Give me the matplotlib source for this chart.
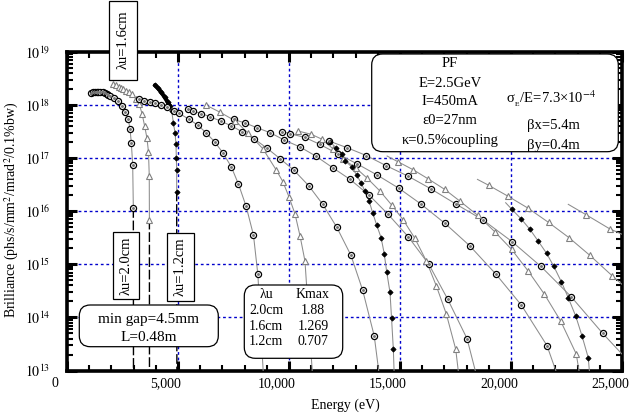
import matplotlib
matplotlib.use("Agg")
import numpy as np
import matplotlib.pyplot as plt
import matplotlib.patches as mpatches
from matplotlib import transforms
from matplotlib.ticker import MultipleLocator, LogLocator, NullFormatter

plt.rcParams["font.family"] = ["Liberation Serif", "DejaVu Serif"]
plt.rcParams["mathtext.fontset"] = "stix"

# --- data: photon energy (eV), log10 brilliance ---
# lambda_u = 2.0 cm (open circles)
c1_E = [1067, 1150, 1250, 1330, 1410, 1500, 1600, 1700, 1780, 1860, 1937, 2100, 2311, 2491, 2613, 2761, 2838, 2897, 2959, 2988, 2995]
c1_log = [18.22, 18.24, 18.25, 18.25, 18.25, 18.25, 18.24, 18.22, 18.21, 18.19, 18.17, 18.13, 18.08, 17.98, 17.87, 17.73, 17.55, 17.29, 16.88, 16.06, 12.9]
c3_E = [3226, 3450, 3724, 3980, 4235, 4505, 4803, 5027, 5508, 5900, 6260, 6646, 7023, 7397, 7725, 8071, 8400, 8597, 8849]
c3_log = [18.11, 18.08, 18.05, 18.03, 18.00, 17.96, 17.89, 17.85, 17.73, 17.62, 17.48, 17.31, 17.10, 16.84, 16.51, 16.09, 15.55, 14.81, 12.9]
c5_E = [5450, 5675, 6047, 6452, 6916, 7397, 7878, 8444, 9002, 9600, 10229, 10890, 11520, 12150, 12790, 13320, 13840, 14070]
c5_log = [17.93, 17.89, 17.84, 17.78, 17.70, 17.61, 17.50, 17.36, 17.19, 16.99, 16.77, 16.48, 16.13, 15.70, 15.17, 14.51, 13.65, 12.9]
c7_E = [7500, 8040, 8580, 9150, 9795, 10500, 11205, 11970, 12750, 13620, 14470, 15370, 16300, 17140, 18020, 18450]
c7_log = [17.73, 17.66, 17.57, 17.48, 17.34, 17.21, 17.04, 16.82, 16.60, 16.30, 15.94, 15.52, 15.00, 14.35, 13.60, 12.9]
c9_E = [9700, 10050, 10720, 11390, 12200, 13080, 13980, 14960, 15930, 17030, 18140, 19310, 20470, 21620, 22100]
c9_log = [17.50, 17.46, 17.39, 17.26, 17.08, 16.89, 16.68, 16.43, 16.14, 15.77, 15.35, 14.82, 14.23, 13.47, 12.9]
c11_E = [11820, 12600, 13480, 14370, 15370, 16400, 17540, 18760, 20040, 21350, 22710, 24130, 25200]
c11_log = [17.32, 17.20, 17.05, 16.86, 16.66, 16.42, 16.13, 15.83, 15.43, 14.96, 14.39, 13.70, 13.22]

# lambda_u = 1.6 cm (open triangles)
t1_E = [2086, 2200, 2330, 2440, 2538, 2650, 2780, 2910, 3100, 3250, 3380, 3500, 3600, 3670, 3705, 3712, 3715]
t1_log = [18.39, 18.37, 18.34, 18.32, 18.30, 18.27, 18.24, 18.20, 18.12, 18.02, 17.84, 17.60, 17.38, 17.12, 16.67, 15.84, 12.9]
t3_E = [6260, 6870, 7590, 8140, 8820, 9420, 9720, 10000, 10270, 10500, 10720, 11060]
t3_log = [18.00, 17.87, 17.70, 17.48, 17.18, 16.78, 16.56, 16.27, 15.95, 15.53, 15.06, 12.9]
t5_E = [10420, 11000, 11470, 12000, 12450, 13000, 13530, 14100, 14620, 15140, 15670, 16190, 16640, 17090, 17510, 17650]
t5_log = [17.51, 17.45, 17.36, 17.17, 16.98, 16.82, 16.62, 16.38, 16.12, 15.84, 15.49, 15.06, 14.59, 14.06, 13.40, 12.9]
t7_E = [14420, 14920, 15600, 16270, 17020, 17700, 18510, 19280, 20030, 20780, 21500, 22240, 22940, 23100]
t7_log = [17.04, 16.93, 16.78, 16.61, 16.41, 16.19, 15.92, 15.61, 15.28, 14.87, 14.44, 13.93, 13.31, 12.9]
t9_E = [18490, 18990, 19880, 20760, 21690, 22620, 23550, 24570, 25200]
t9_log = [16.60, 16.49, 16.28, 16.06, 15.79, 15.50, 15.17, 14.78, 14.55]
t11_E = [22580, 23400, 24440, 25200]
t11_log = [16.13, 15.93, 15.67, 15.53]

# lambda_u = 1.2 cm (filled black)
b1_E = [3964, 4100, 4250, 4400, 4530, 4640, 4715, 4790, 4865, 4910, 4925, 4940, 4940, 4950]
b1_log = [18.375, 18.32, 18.24, 18.15, 18.06, 17.98, 17.89, 17.67, 17.48, 17.26, 17.00, 16.78, 16.37, 12.9]
b3_E = [11850, 12120, 12380, 12520, 12820, 13050, 13240, 13420, 13610, 13770, 13950, 14150, 14290, 14400, 14550, 14620, 14700, 14740]
b3_log = [17.30, 17.20, 17.08, 16.95, 16.84, 16.68, 16.54, 16.38, 16.19, 15.97, 15.74, 15.50, 15.20, 14.86, 14.47, 13.98, 13.40, 12.9]
b5_E = [19760, 20030, 20470, 20850, 21220, 21600, 21930, 22270, 22580, 22920, 23200, 23480, 23550]
b5_log = [16.16, 16.04, 15.85, 15.66, 15.44, 15.21, 14.96, 14.67, 14.37, 14.02, 13.65, 13.24, 12.9]

x_ticks = [0, 5000, 10000, 15000, 20000, 25000]
x_labels = ["0", "5,000", "10,000", "15,000", "20,000", "25,000"]
y_decades = [13, 14, 15, 16, 17, 18, 19]

W, H = 630, 419
fig = plt.figure(figsize=(W / 100, H / 100), dpi=100)
ax = fig.add_axes([67 / W, 1 - 370.5 / H, 555 / W, 318.5 / H])
ax.set_yscale("log")
ax.set_xlim(0, 25000)
ax.set_ylim(1e13, 1e19)

for x in x_ticks[1:-1]:
    ax.axvline(x, color="#0000cc", ls=(0, (2, 2)), lw=1.0, zorder=1)
for d in y_decades[1:-1]:
    ax.axhline(10.0 ** d, color="#0000cc", ls=(0, (2, 2)), lw=1.0, zorder=1)

circ = dict(marker="o", ms=4.4, mfc="white", mec="black", mew=0.9)
tri = dict(marker="^", ms=4.2, mfc="white", mec="#808080", mew=0.8)
dot = dict(marker="D", ms=2.7, mfc="black", mec="black", mew=0.5)


def draw(E, logB, style, first=0):
    B = 10.0 ** np.array(logB)
    ax.plot(E, B, color="#8c8c8c", lw=0.75, zorder=3)
    ax.plot(E[first:-1], B[first:-1], ls="none", zorder=4, **style)
    if style is circ:
        ax.plot(E[first:-1], B[first:-1], ls="none", marker=".", ms=2.2, color="#777777", zorder=5)


def draw_fund(E, logB, style):
    B = 10.0 ** np.array(logB)
    ax.plot(E[:-1], B[:-1], color="#8c8c8c", lw=0.75, zorder=3)
    ax.plot(E[-2:], B[-2:], color="black", lw=1.0, ls=(0, (7, 2)), zorder=3)
    ax.plot(E[:-1], B[:-1], ls="none", zorder=4, **style)
    if style is circ:
        ax.plot(E[:-1], B[:-1], ls="none", marker=".", ms=2.2, color="#777777", zorder=5)


draw_fund(c1_E, c1_log, circ)
draw_fund(t1_E, t1_log, tri)
draw_fund(b1_E, b1_log, dot)
# dense start of the 1.2 cm fundamental looks like a thick line
ax.plot(b1_E[:6], 10.0 ** np.array(b1_log[:6]), color="black", lw=3.0, zorder=4,
        solid_capstyle="round")

draw(c3_E, c3_log, circ)
draw(c5_E, c5_log, circ)
draw(c7_E, c7_log, circ)
draw(c9_E, c9_log, circ)
draw(c11_E, c11_log, circ)
draw(t3_E, t3_log, tri)
draw(t5_E, t5_log, tri)
draw(t7_E, t7_log, tri, first=1)
draw(t9_E, t9_log, tri, first=1)
draw(t11_E, t11_log, tri, first=1)
draw(b3_E, b3_log, dot)
draw(b5_E, b5_log, dot, first=1)

ax.set_xticks(x_ticks)
ax.set_xticklabels(x_labels, fontsize=10)
ax.xaxis.set_minor_locator(MultipleLocator(1000))
ax.set_yticks([10.0 ** d for d in y_decades])
ax.set_yticklabels([r"$10^{%d}$" % d for d in y_decades], fontsize=10)
ax.yaxis.set_minor_locator(LogLocator(base=10, subs=np.arange(2, 10)))
ax.yaxis.set_minor_formatter(NullFormatter())
ax.tick_params(which="both", direction="in", top=True, right=True)
ax.tick_params(which="major", length=7, width=2.2)
ax.tick_params(which="minor", length=4, width=1.5)
ax.tick_params(axis="x", which="major", pad=5)
ax.tick_params(axis="y", which="major", pad=12)
shift = transforms.ScaledTranslation(-0.12, 0, fig.dpi_scale_trans)
for lab in ax.get_xticklabels():
    lab.set_transform(lab.get_transform() + shift)
for s in ax.spines.values():
    s.set_linewidth(2.6)

fig.text(345 / W, 1 - 405 / H, "Energy (eV)", ha="center", va="center", fontsize=10)
fig.text(12 / W, 1 - 210 / H, "Brilliance (phs/s/mm$^2$/mrad$^2$/0.1%bw)",
         ha="center", va="center", rotation=90, fontsize=10)

pix = transforms.IdentityTransform()


def box(x0, y0, x1, y1, rounded=False):
    if rounded:
        style = "round,pad=0,rounding_size=11"
    else:
        style = "square,pad=0"
    p = mpatches.FancyBboxPatch((x0, H - y1), x1 - x0, y1 - y0, boxstyle=style,
                                transform=pix, fc="white", ec="black", lw=0.9, zorder=6)
    fig.add_artist(p)


def label(x, y, s, size=10.5, rot=0):
    fig.text(x / W, 1 - y / H, s, ha="center", va="center", fontsize=size,
             rotation=rot, zorder=7)


box(109, 1, 137, 80)
label(123, 40, "λu=1.6cm", rot=90)
box(112.7, 231.7, 139.3, 299.3)
label(126, 265.5, "λu=2.0cm", rot=90)
box(166.7, 232.7, 194, 300.7)
label(180.3, 266.7, "λu=1.2cm", rot=90)

box(79.3, 305, 218.3, 346.7, rounded=True)
label(148.8, 319.5, "min gap=4.5mm", size=11)
label(148.8, 337.5, "L=0.48m", size=11)

box(244.3, 285, 342.7, 358.3, rounded=True)
table_rows = [("λu", "Kmax"), ("2.0cm", "1.88"), ("1.6cm", "1.269"), ("1.2cm", "0.707")]
for i, (a, b) in enumerate(table_rows):
    yy = 295 + i * 15.6
    label(266, yy, a, size=10)
    label(313, yy, b, size=10)

box(371.7, 54, 618.3, 151.7, rounded=True)
for yy, s in zip([63.3, 83.3, 101.7, 120, 140],
                 ["PF", "E=2.5GeV", "I=450mA", "ε0=27nm", "κ=0.5%coupling"]):
    label(450, yy, s)
label(551, 99, "σ$_{_{\\rm E}}$/E=7.3×10$^{-4}$")
label(553, 125, "βx=5.4m")
label(553, 145, "βy=0.4m")

fig.savefig("out.png", dpi=100)
